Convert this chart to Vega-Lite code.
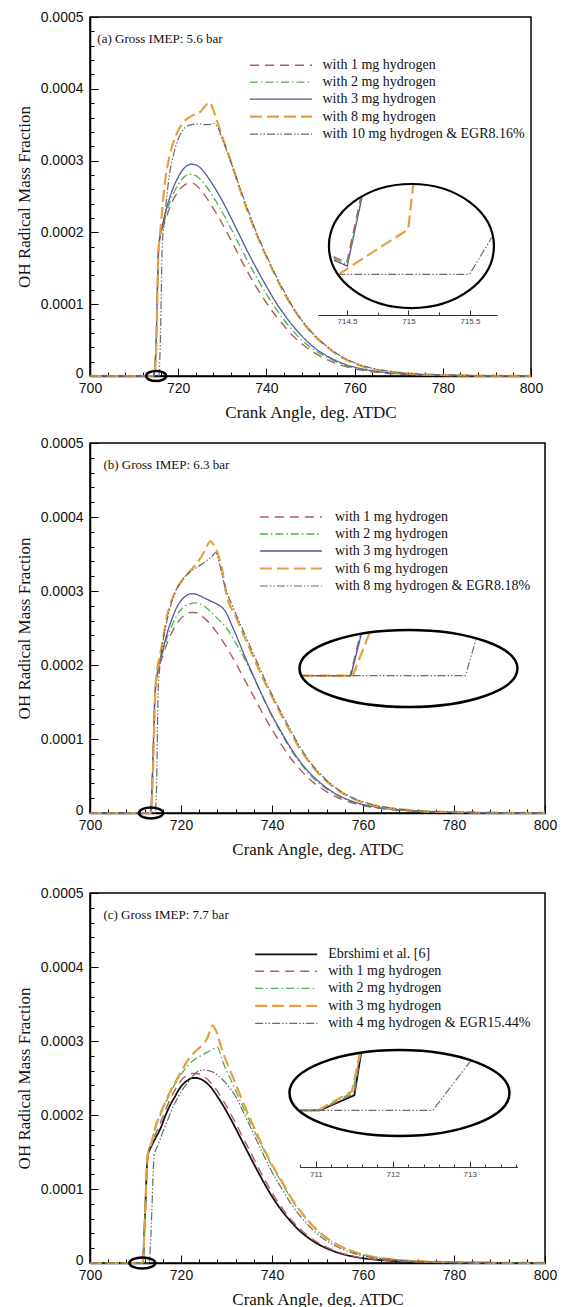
{
  "$schema": "https://vega.github.io/schema/vega-lite/v6.json",
  "background": "white",
  "padding": {"left": 14, "top": 9, "right": 0, "bottom": 0},
  "config": {
    "view": {"stroke": "black", "strokeWidth": 1.5},
    "axis": {"grid": false, "domainColor": "black", "domainWidth": 1.5, "tickColor": "black", "tickWidth": 1, "labelFont": "Liberation Sans", "labelFontSize": 14, "labelColor": "#111", "titleFont": "Liberation Serif", "titleFontSize": 17, "titleFontWeight": "normal", "titleColor": "#111", "labelOverlap": false, "tickCount": 40}
  },
  "datasets": {
    "a_main": [
      {"series":"with 1 mg hydrogen","angle":700,"oh":0},{"series":"with 1 mg hydrogen","angle":714.4,"oh":0},{"series":"with 1 mg hydrogen","angle":714.9,"oh":3e-5},{"series":"with 1 mg hydrogen","angle":715.6,"oh":1.8e-4},{"series":"with 1 mg hydrogen","angle":716,"oh":1.95e-4},{"series":"with 1 mg hydrogen","angle":717,"oh":2.15e-4},{"series":"with 1 mg hydrogen","angle":718,"oh":2.33e-4},{"series":"with 1 mg hydrogen","angle":719,"oh":2.47e-4},{"series":"with 1 mg hydrogen","angle":720,"oh":2.57e-4},{"series":"with 1 mg hydrogen","angle":721,"oh":2.64e-4},{"series":"with 1 mg hydrogen","angle":722,"oh":2.68e-4},{"series":"with 1 mg hydrogen","angle":723,"oh":2.69e-4},{"series":"with 1 mg hydrogen","angle":724,"oh":2.66e-4},{"series":"with 1 mg hydrogen","angle":725,"oh":2.6e-4},{"series":"with 1 mg hydrogen","angle":726,"oh":2.52e-4},{"series":"with 1 mg hydrogen","angle":728,"oh":2.33e-4},{"series":"with 1 mg hydrogen","angle":730,"oh":2.12e-4},{"series":"with 1 mg hydrogen","angle":732,"oh":1.89e-4},{"series":"with 1 mg hydrogen","angle":734,"oh":1.65e-4},{"series":"with 1 mg hydrogen","angle":736,"oh":1.42e-4},{"series":"with 1 mg hydrogen","angle":738,"oh":1.21e-4},{"series":"with 1 mg hydrogen","angle":740,"oh":1.02e-4},{"series":"with 1 mg hydrogen","angle":742,"oh":8.5e-5},{"series":"with 1 mg hydrogen","angle":744,"oh":7e-5},{"series":"with 1 mg hydrogen","angle":746,"oh":5.6e-5},{"series":"with 1 mg hydrogen","angle":748,"oh":4.5e-5},{"series":"with 1 mg hydrogen","angle":750,"oh":3.6e-5},{"series":"with 1 mg hydrogen","angle":754,"oh":2.2e-5},{"series":"with 1 mg hydrogen","angle":758,"oh":1.3e-5},{"series":"with 1 mg hydrogen","angle":762,"oh":7.5e-6},{"series":"with 1 mg hydrogen","angle":768,"oh":3.5e-6},{"series":"with 1 mg hydrogen","angle":775,"oh":1.5e-6},{"series":"with 1 mg hydrogen","angle":785,"oh":5e-7},{"series":"with 1 mg hydrogen","angle":800,"oh":1e-7},
      {"series":"with 2 mg hydrogen","angle":700,"oh":0},{"series":"with 2 mg hydrogen","angle":714.4,"oh":0},{"series":"with 2 mg hydrogen","angle":714.9,"oh":3e-5},{"series":"with 2 mg hydrogen","angle":715.6,"oh":1.82e-4},{"series":"with 2 mg hydrogen","angle":716,"oh":1.97e-4},{"series":"with 2 mg hydrogen","angle":717,"oh":2.2e-4},{"series":"with 2 mg hydrogen","angle":718,"oh":2.4e-4},{"series":"with 2 mg hydrogen","angle":719,"oh":2.55e-4},{"series":"with 2 mg hydrogen","angle":720,"oh":2.67e-4},{"series":"with 2 mg hydrogen","angle":721,"oh":2.75e-4},{"series":"with 2 mg hydrogen","angle":722,"oh":2.8e-4},{"series":"with 2 mg hydrogen","angle":723,"oh":2.81e-4},{"series":"with 2 mg hydrogen","angle":724,"oh":2.79e-4},{"series":"with 2 mg hydrogen","angle":725,"oh":2.74e-4},{"series":"with 2 mg hydrogen","angle":726,"oh":2.67e-4},{"series":"with 2 mg hydrogen","angle":728,"oh":2.49e-4},{"series":"with 2 mg hydrogen","angle":730,"oh":2.28e-4},{"series":"with 2 mg hydrogen","angle":732,"oh":2.05e-4},{"series":"with 2 mg hydrogen","angle":734,"oh":1.81e-4},{"series":"with 2 mg hydrogen","angle":736,"oh":1.57e-4},{"series":"with 2 mg hydrogen","angle":738,"oh":1.35e-4},{"series":"with 2 mg hydrogen","angle":740,"oh":1.14e-4},{"series":"with 2 mg hydrogen","angle":742,"oh":9.5e-5},{"series":"with 2 mg hydrogen","angle":744,"oh":7.8e-5},{"series":"with 2 mg hydrogen","angle":746,"oh":6.3e-5},{"series":"with 2 mg hydrogen","angle":748,"oh":5e-5},{"series":"with 2 mg hydrogen","angle":750,"oh":4e-5},{"series":"with 2 mg hydrogen","angle":754,"oh":2.5e-5},{"series":"with 2 mg hydrogen","angle":758,"oh":1.45e-5},{"series":"with 2 mg hydrogen","angle":762,"oh":8.5e-6},{"series":"with 2 mg hydrogen","angle":768,"oh":4e-6},{"series":"with 2 mg hydrogen","angle":775,"oh":1.7e-6},{"series":"with 2 mg hydrogen","angle":785,"oh":6e-7},{"series":"with 2 mg hydrogen","angle":800,"oh":1e-7},
      {"series":"with 3 mg hydrogen","angle":700,"oh":0},{"series":"with 3 mg hydrogen","angle":714.4,"oh":0},{"series":"with 3 mg hydrogen","angle":714.9,"oh":3e-5},{"series":"with 3 mg hydrogen","angle":715.6,"oh":1.84e-4},{"series":"with 3 mg hydrogen","angle":716,"oh":1.98e-4},{"series":"with 3 mg hydrogen","angle":717,"oh":2.25e-4},{"series":"with 3 mg hydrogen","angle":718,"oh":2.47e-4},{"series":"with 3 mg hydrogen","angle":719,"oh":2.64e-4},{"series":"with 3 mg hydrogen","angle":720,"oh":2.77e-4},{"series":"with 3 mg hydrogen","angle":721,"oh":2.87e-4},{"series":"with 3 mg hydrogen","angle":722,"oh":2.93e-4},{"series":"with 3 mg hydrogen","angle":723,"oh":2.95e-4},{"series":"with 3 mg hydrogen","angle":724,"oh":2.94e-4},{"series":"with 3 mg hydrogen","angle":725,"oh":2.9e-4},{"series":"with 3 mg hydrogen","angle":726,"oh":2.83e-4},{"series":"with 3 mg hydrogen","angle":728,"oh":2.65e-4},{"series":"with 3 mg hydrogen","angle":730,"oh":2.44e-4},{"series":"with 3 mg hydrogen","angle":732,"oh":2.2e-4},{"series":"with 3 mg hydrogen","angle":734,"oh":1.95e-4},{"series":"with 3 mg hydrogen","angle":736,"oh":1.7e-4},{"series":"with 3 mg hydrogen","angle":738,"oh":1.47e-4},{"series":"with 3 mg hydrogen","angle":740,"oh":1.25e-4},{"series":"with 3 mg hydrogen","angle":742,"oh":1.04e-4},{"series":"with 3 mg hydrogen","angle":744,"oh":8.6e-5},{"series":"with 3 mg hydrogen","angle":746,"oh":7e-5},{"series":"with 3 mg hydrogen","angle":748,"oh":5.6e-5},{"series":"with 3 mg hydrogen","angle":750,"oh":4.4e-5},{"series":"with 3 mg hydrogen","angle":754,"oh":2.7e-5},{"series":"with 3 mg hydrogen","angle":758,"oh":1.6e-5},{"series":"with 3 mg hydrogen","angle":762,"oh":9.5e-6},{"series":"with 3 mg hydrogen","angle":768,"oh":4.5e-6},{"series":"with 3 mg hydrogen","angle":775,"oh":1.9e-6},{"series":"with 3 mg hydrogen","angle":785,"oh":7e-7},{"series":"with 3 mg hydrogen","angle":800,"oh":1e-7},
      {"series":"with 8 mg hydrogen","angle":700,"oh":0},{"series":"with 8 mg hydrogen","angle":714.4,"oh":0},{"series":"with 8 mg hydrogen","angle":714.9,"oh":2e-5},{"series":"with 8 mg hydrogen","angle":715.5,"oh":1.7e-4},{"series":"with 8 mg hydrogen","angle":716,"oh":2.05e-4},{"series":"with 8 mg hydrogen","angle":716.5,"oh":2.4e-4},{"series":"with 8 mg hydrogen","angle":717,"oh":2.7e-4},{"series":"with 8 mg hydrogen","angle":718,"oh":3.05e-4},{"series":"with 8 mg hydrogen","angle":719,"oh":3.27e-4},{"series":"with 8 mg hydrogen","angle":720,"oh":3.42e-4},{"series":"with 8 mg hydrogen","angle":721,"oh":3.52e-4},{"series":"with 8 mg hydrogen","angle":722,"oh":3.58e-4},{"series":"with 8 mg hydrogen","angle":723,"oh":3.62e-4},{"series":"with 8 mg hydrogen","angle":724,"oh":3.65e-4},{"series":"with 8 mg hydrogen","angle":725,"oh":3.68e-4},{"series":"with 8 mg hydrogen","angle":726,"oh":3.75e-4},{"series":"with 8 mg hydrogen","angle":727,"oh":3.81e-4},{"series":"with 8 mg hydrogen","angle":727.5,"oh":3.78e-4},{"series":"with 8 mg hydrogen","angle":728,"oh":3.7e-4},{"series":"with 8 mg hydrogen","angle":729,"oh":3.52e-4},{"series":"with 8 mg hydrogen","angle":730,"oh":3.33e-4},{"series":"with 8 mg hydrogen","angle":731,"oh":3.16e-4},{"series":"with 8 mg hydrogen","angle":732,"oh":2.98e-4},{"series":"with 8 mg hydrogen","angle":734,"oh":2.6e-4},{"series":"with 8 mg hydrogen","angle":736,"oh":2.25e-4},{"series":"with 8 mg hydrogen","angle":738,"oh":1.94e-4},{"series":"with 8 mg hydrogen","angle":740,"oh":1.66e-4},{"series":"with 8 mg hydrogen","angle":742,"oh":1.4e-4},{"series":"with 8 mg hydrogen","angle":744,"oh":1.16e-4},{"series":"with 8 mg hydrogen","angle":746,"oh":9.5e-5},{"series":"with 8 mg hydrogen","angle":748,"oh":7.7e-5},{"series":"with 8 mg hydrogen","angle":750,"oh":6.2e-5},{"series":"with 8 mg hydrogen","angle":754,"oh":3.9e-5},{"series":"with 8 mg hydrogen","angle":758,"oh":2.3e-5},{"series":"with 8 mg hydrogen","angle":762,"oh":1.3e-5},{"series":"with 8 mg hydrogen","angle":768,"oh":6e-6},{"series":"with 8 mg hydrogen","angle":775,"oh":2.5e-6},{"series":"with 8 mg hydrogen","angle":785,"oh":8e-7},{"series":"with 8 mg hydrogen","angle":800,"oh":2e-7},
      {"series":"with 10 mg hydrogen & EGR8.16%","angle":700,"oh":0},{"series":"with 10 mg hydrogen & EGR8.16%","angle":715.6,"oh":0},{"series":"with 10 mg hydrogen & EGR8.16%","angle":716,"oh":6e-5},{"series":"with 10 mg hydrogen & EGR8.16%","angle":716.4,"oh":1.85e-4},{"series":"with 10 mg hydrogen & EGR8.16%","angle":716.8,"oh":2.1e-4},{"series":"with 10 mg hydrogen & EGR8.16%","angle":717.5,"oh":2.55e-4},{"series":"with 10 mg hydrogen & EGR8.16%","angle":718,"oh":2.8e-4},{"series":"with 10 mg hydrogen & EGR8.16%","angle":719,"oh":3.1e-4},{"series":"with 10 mg hydrogen & EGR8.16%","angle":720,"oh":3.3e-4},{"series":"with 10 mg hydrogen & EGR8.16%","angle":721,"oh":3.42e-4},{"series":"with 10 mg hydrogen & EGR8.16%","angle":722,"oh":3.48e-4},{"series":"with 10 mg hydrogen & EGR8.16%","angle":723,"oh":3.5e-4},{"series":"with 10 mg hydrogen & EGR8.16%","angle":724,"oh":3.51e-4},{"series":"with 10 mg hydrogen & EGR8.16%","angle":725,"oh":3.51e-4},{"series":"with 10 mg hydrogen & EGR8.16%","angle":726,"oh":3.5e-4},{"series":"with 10 mg hydrogen & EGR8.16%","angle":727,"oh":3.5e-4},{"series":"with 10 mg hydrogen & EGR8.16%","angle":728,"oh":3.52e-4},{"series":"with 10 mg hydrogen & EGR8.16%","angle":729,"oh":3.46e-4},{"series":"with 10 mg hydrogen & EGR8.16%","angle":730,"oh":3.3e-4},{"series":"with 10 mg hydrogen & EGR8.16%","angle":731,"oh":3.14e-4},{"series":"with 10 mg hydrogen & EGR8.16%","angle":732,"oh":2.97e-4},{"series":"with 10 mg hydrogen & EGR8.16%","angle":734,"oh":2.62e-4},{"series":"with 10 mg hydrogen & EGR8.16%","angle":736,"oh":2.28e-4},{"series":"with 10 mg hydrogen & EGR8.16%","angle":738,"oh":1.96e-4},{"series":"with 10 mg hydrogen & EGR8.16%","angle":740,"oh":1.68e-4},{"series":"with 10 mg hydrogen & EGR8.16%","angle":742,"oh":1.42e-4},{"series":"with 10 mg hydrogen & EGR8.16%","angle":744,"oh":1.18e-4},{"series":"with 10 mg hydrogen & EGR8.16%","angle":746,"oh":9.6e-5},{"series":"with 10 mg hydrogen & EGR8.16%","angle":748,"oh":7.8e-5},{"series":"with 10 mg hydrogen & EGR8.16%","angle":750,"oh":6.3e-5},{"series":"with 10 mg hydrogen & EGR8.16%","angle":754,"oh":4e-5},{"series":"with 10 mg hydrogen & EGR8.16%","angle":758,"oh":2.4e-5},{"series":"with 10 mg hydrogen & EGR8.16%","angle":762,"oh":1.4e-5},{"series":"with 10 mg hydrogen & EGR8.16%","angle":768,"oh":6.5e-6},{"series":"with 10 mg hydrogen & EGR8.16%","angle":775,"oh":2.7e-6},{"series":"with 10 mg hydrogen & EGR8.16%","angle":785,"oh":9e-7},{"series":"with 10 mg hydrogen & EGR8.16%","angle":800,"oh":2e-7}
    ],
    "a_inset": [
      {"series":"with 10 mg hydrogen & EGR8.16%","angle":714.421,"oh":0},{"series":"with 10 mg hydrogen & EGR8.16%","angle":715.497,"oh":0},{"series":"with 10 mg hydrogen & EGR8.16%","angle":715.676,"oh":4.07e-7},
      {"series":"with 8 mg hydrogen","angle":714.43,"oh":0},{"series":"with 8 mg hydrogen","angle":714.998,"oh":5e-7},{"series":"with 8 mg hydrogen","angle":715.039,"oh":1e-6},
      {"series":"with 3 mg hydrogen","angle":714.394,"oh":1.56e-7},{"series":"with 3 mg hydrogen","angle":714.502,"oh":9.2e-8},{"series":"with 3 mg hydrogen","angle":714.624,"oh":8.7e-7},
      {"series":"with 2 mg hydrogen","angle":714.392,"oh":1.75e-7},{"series":"with 2 mg hydrogen","angle":714.5,"oh":1.1e-7},{"series":"with 2 mg hydrogen","angle":714.619,"oh":8.7e-7},
      {"series":"with 1 mg hydrogen","angle":714.39,"oh":1.95e-7},{"series":"with 1 mg hydrogen","angle":714.498,"oh":1.28e-7},{"series":"with 1 mg hydrogen","angle":714.614,"oh":8.7e-7}
    ],
    "b_main": [
      {"series":"with 1 mg hydrogen","angle":700,"oh":0},{"series":"with 1 mg hydrogen","angle":713.3,"oh":0},{"series":"with 1 mg hydrogen","angle":713.6,"oh":3e-5},{"series":"with 1 mg hydrogen","angle":714.3,"oh":1.6e-4},{"series":"with 1 mg hydrogen","angle":714.8,"oh":1.86e-4},{"series":"with 1 mg hydrogen","angle":716,"oh":2.12e-4},{"series":"with 1 mg hydrogen","angle":717,"oh":2.3e-4},{"series":"with 1 mg hydrogen","angle":718,"oh":2.44e-4},{"series":"with 1 mg hydrogen","angle":719,"oh":2.55e-4},{"series":"with 1 mg hydrogen","angle":720,"oh":2.63e-4},{"series":"with 1 mg hydrogen","angle":721,"oh":2.68e-4},{"series":"with 1 mg hydrogen","angle":722,"oh":2.71e-4},{"series":"with 1 mg hydrogen","angle":723,"oh":2.71e-4},{"series":"with 1 mg hydrogen","angle":724,"oh":2.69e-4},{"series":"with 1 mg hydrogen","angle":725,"oh":2.64e-4},{"series":"with 1 mg hydrogen","angle":726,"oh":2.58e-4},{"series":"with 1 mg hydrogen","angle":728,"oh":2.43e-4},{"series":"with 1 mg hydrogen","angle":730,"oh":2.24e-4},{"series":"with 1 mg hydrogen","angle":732,"oh":2.03e-4},{"series":"with 1 mg hydrogen","angle":734,"oh":1.8e-4},{"series":"with 1 mg hydrogen","angle":736,"oh":1.57e-4},{"series":"with 1 mg hydrogen","angle":738,"oh":1.34e-4},{"series":"with 1 mg hydrogen","angle":740,"oh":1.13e-4},{"series":"with 1 mg hydrogen","angle":742,"oh":9.3e-5},{"series":"with 1 mg hydrogen","angle":744,"oh":7.5e-5},{"series":"with 1 mg hydrogen","angle":746,"oh":6e-5},{"series":"with 1 mg hydrogen","angle":748,"oh":4.7e-5},{"series":"with 1 mg hydrogen","angle":750,"oh":3.7e-5},{"series":"with 1 mg hydrogen","angle":754,"oh":2.2e-5},{"series":"with 1 mg hydrogen","angle":758,"oh":1.3e-5},{"series":"with 1 mg hydrogen","angle":762,"oh":7.5e-6},{"series":"with 1 mg hydrogen","angle":768,"oh":3.5e-6},{"series":"with 1 mg hydrogen","angle":775,"oh":1.5e-6},{"series":"with 1 mg hydrogen","angle":785,"oh":5e-7},{"series":"with 1 mg hydrogen","angle":800,"oh":1e-7},
      {"series":"with 2 mg hydrogen","angle":700,"oh":0},{"series":"with 2 mg hydrogen","angle":713.3,"oh":0},{"series":"with 2 mg hydrogen","angle":713.6,"oh":3e-5},{"series":"with 2 mg hydrogen","angle":714.3,"oh":1.62e-4},{"series":"with 2 mg hydrogen","angle":714.8,"oh":1.88e-4},{"series":"with 2 mg hydrogen","angle":716,"oh":2.17e-4},{"series":"with 2 mg hydrogen","angle":717,"oh":2.38e-4},{"series":"with 2 mg hydrogen","angle":718,"oh":2.53e-4},{"series":"with 2 mg hydrogen","angle":719,"oh":2.66e-4},{"series":"with 2 mg hydrogen","angle":720,"oh":2.75e-4},{"series":"with 2 mg hydrogen","angle":721,"oh":2.8e-4},{"series":"with 2 mg hydrogen","angle":722,"oh":2.83e-4},{"series":"with 2 mg hydrogen","angle":723,"oh":2.84e-4},{"series":"with 2 mg hydrogen","angle":724,"oh":2.83e-4},{"series":"with 2 mg hydrogen","angle":725,"oh":2.8e-4},{"series":"with 2 mg hydrogen","angle":726,"oh":2.75e-4},{"series":"with 2 mg hydrogen","angle":728,"oh":2.63e-4},{"series":"with 2 mg hydrogen","angle":730,"oh":2.5e-4},{"series":"with 2 mg hydrogen","angle":732,"oh":2.3e-4},{"series":"with 2 mg hydrogen","angle":734,"oh":2.08e-4},{"series":"with 2 mg hydrogen","angle":736,"oh":1.83e-4},{"series":"with 2 mg hydrogen","angle":738,"oh":1.56e-4},{"series":"with 2 mg hydrogen","angle":740,"oh":1.31e-4},{"series":"with 2 mg hydrogen","angle":742,"oh":1.08e-4},{"series":"with 2 mg hydrogen","angle":744,"oh":8.7e-5},{"series":"with 2 mg hydrogen","angle":746,"oh":6.9e-5},{"series":"with 2 mg hydrogen","angle":748,"oh":5.4e-5},{"series":"with 2 mg hydrogen","angle":750,"oh":4.2e-5},{"series":"with 2 mg hydrogen","angle":754,"oh":2.5e-5},{"series":"with 2 mg hydrogen","angle":758,"oh":1.45e-5},{"series":"with 2 mg hydrogen","angle":762,"oh":8.5e-6},{"series":"with 2 mg hydrogen","angle":768,"oh":4e-6},{"series":"with 2 mg hydrogen","angle":775,"oh":1.7e-6},{"series":"with 2 mg hydrogen","angle":785,"oh":6e-7},{"series":"with 2 mg hydrogen","angle":800,"oh":1e-7},
      {"series":"with 3 mg hydrogen","angle":700,"oh":0},{"series":"with 3 mg hydrogen","angle":713.3,"oh":0},{"series":"with 3 mg hydrogen","angle":713.6,"oh":3e-5},{"series":"with 3 mg hydrogen","angle":714.3,"oh":1.63e-4},{"series":"with 3 mg hydrogen","angle":714.8,"oh":1.9e-4},{"series":"with 3 mg hydrogen","angle":716,"oh":2.2e-4},{"series":"with 3 mg hydrogen","angle":717,"oh":2.44e-4},{"series":"with 3 mg hydrogen","angle":718,"oh":2.62e-4},{"series":"with 3 mg hydrogen","angle":719,"oh":2.77e-4},{"series":"with 3 mg hydrogen","angle":720,"oh":2.87e-4},{"series":"with 3 mg hydrogen","angle":721,"oh":2.93e-4},{"series":"with 3 mg hydrogen","angle":722,"oh":2.96e-4},{"series":"with 3 mg hydrogen","angle":723,"oh":2.96e-4},{"series":"with 3 mg hydrogen","angle":724,"oh":2.94e-4},{"series":"with 3 mg hydrogen","angle":725,"oh":2.91e-4},{"series":"with 3 mg hydrogen","angle":726,"oh":2.88e-4},{"series":"with 3 mg hydrogen","angle":727,"oh":2.85e-4},{"series":"with 3 mg hydrogen","angle":728,"oh":2.82e-4},{"series":"with 3 mg hydrogen","angle":729,"oh":2.78e-4},{"series":"with 3 mg hydrogen","angle":730,"oh":2.7e-4},{"series":"with 3 mg hydrogen","angle":731,"oh":2.56e-4},{"series":"with 3 mg hydrogen","angle":732,"oh":2.42e-4},{"series":"with 3 mg hydrogen","angle":734,"oh":2.12e-4},{"series":"with 3 mg hydrogen","angle":736,"oh":1.84e-4},{"series":"with 3 mg hydrogen","angle":738,"oh":1.57e-4},{"series":"with 3 mg hydrogen","angle":740,"oh":1.32e-4},{"series":"with 3 mg hydrogen","angle":742,"oh":1.1e-4},{"series":"with 3 mg hydrogen","angle":744,"oh":8.9e-5},{"series":"with 3 mg hydrogen","angle":746,"oh":7.1e-5},{"series":"with 3 mg hydrogen","angle":748,"oh":5.6e-5},{"series":"with 3 mg hydrogen","angle":750,"oh":4.4e-5},{"series":"with 3 mg hydrogen","angle":754,"oh":2.6e-5},{"series":"with 3 mg hydrogen","angle":758,"oh":1.5e-5},{"series":"with 3 mg hydrogen","angle":762,"oh":9e-6},{"series":"with 3 mg hydrogen","angle":768,"oh":4.2e-6},{"series":"with 3 mg hydrogen","angle":775,"oh":1.8e-6},{"series":"with 3 mg hydrogen","angle":785,"oh":6e-7},{"series":"with 3 mg hydrogen","angle":800,"oh":1e-7},
      {"series":"with 6 mg hydrogen","angle":700,"oh":0},{"series":"with 6 mg hydrogen","angle":713.4,"oh":0},{"series":"with 6 mg hydrogen","angle":713.7,"oh":3e-5},{"series":"with 6 mg hydrogen","angle":714.4,"oh":1.7e-4},{"series":"with 6 mg hydrogen","angle":714.7,"oh":1.9e-4},{"series":"with 6 mg hydrogen","angle":715.6,"oh":2.2e-4},{"series":"with 6 mg hydrogen","angle":717,"oh":2.68e-4},{"series":"with 6 mg hydrogen","angle":718,"oh":2.88e-4},{"series":"with 6 mg hydrogen","angle":719,"oh":3.02e-4},{"series":"with 6 mg hydrogen","angle":720,"oh":3.12e-4},{"series":"with 6 mg hydrogen","angle":721,"oh":3.2e-4},{"series":"with 6 mg hydrogen","angle":722,"oh":3.27e-4},{"series":"with 6 mg hydrogen","angle":723,"oh":3.34e-4},{"series":"with 6 mg hydrogen","angle":724,"oh":3.42e-4},{"series":"with 6 mg hydrogen","angle":725,"oh":3.52e-4},{"series":"with 6 mg hydrogen","angle":726,"oh":3.64e-4},{"series":"with 6 mg hydrogen","angle":726.5,"oh":3.67e-4},{"series":"with 6 mg hydrogen","angle":727,"oh":3.64e-4},{"series":"with 6 mg hydrogen","angle":728,"oh":3.52e-4},{"series":"with 6 mg hydrogen","angle":729,"oh":3.3e-4},{"series":"with 6 mg hydrogen","angle":730,"oh":2.95e-4},{"series":"with 6 mg hydrogen","angle":732,"oh":2.66e-4},{"series":"with 6 mg hydrogen","angle":734,"oh":2.37e-4},{"series":"with 6 mg hydrogen","angle":736,"oh":2.1e-4},{"series":"with 6 mg hydrogen","angle":738,"oh":1.82e-4},{"series":"with 6 mg hydrogen","angle":740,"oh":1.57e-4},{"series":"with 6 mg hydrogen","angle":742,"oh":1.33e-4},{"series":"with 6 mg hydrogen","angle":744,"oh":1.1e-4},{"series":"with 6 mg hydrogen","angle":746,"oh":8.8e-5},{"series":"with 6 mg hydrogen","angle":748,"oh":7e-5},{"series":"with 6 mg hydrogen","angle":750,"oh":5.5e-5},{"series":"with 6 mg hydrogen","angle":754,"oh":3.3e-5},{"series":"with 6 mg hydrogen","angle":758,"oh":1.9e-5},{"series":"with 6 mg hydrogen","angle":762,"oh":1.1e-5},{"series":"with 6 mg hydrogen","angle":768,"oh":5e-6},{"series":"with 6 mg hydrogen","angle":775,"oh":2.1e-6},{"series":"with 6 mg hydrogen","angle":785,"oh":7e-7},{"series":"with 6 mg hydrogen","angle":800,"oh":1e-7},
      {"series":"with 8 mg hydrogen & EGR8.18%","angle":700,"oh":0},{"series":"with 8 mg hydrogen & EGR8.18%","angle":714.3,"oh":0},{"series":"with 8 mg hydrogen & EGR8.18%","angle":714.6,"oh":3e-5},{"series":"with 8 mg hydrogen & EGR8.18%","angle":715,"oh":1.7e-4},{"series":"with 8 mg hydrogen & EGR8.18%","angle":715.3,"oh":1.95e-4},{"series":"with 8 mg hydrogen & EGR8.18%","angle":716,"oh":2.3e-4},{"series":"with 8 mg hydrogen & EGR8.18%","angle":717,"oh":2.62e-4},{"series":"with 8 mg hydrogen & EGR8.18%","angle":718,"oh":2.86e-4},{"series":"with 8 mg hydrogen & EGR8.18%","angle":719,"oh":3.02e-4},{"series":"with 8 mg hydrogen & EGR8.18%","angle":720,"oh":3.13e-4},{"series":"with 8 mg hydrogen & EGR8.18%","angle":721,"oh":3.2e-4},{"series":"with 8 mg hydrogen & EGR8.18%","angle":722,"oh":3.26e-4},{"series":"with 8 mg hydrogen & EGR8.18%","angle":723,"oh":3.3e-4},{"series":"with 8 mg hydrogen & EGR8.18%","angle":724,"oh":3.34e-4},{"series":"with 8 mg hydrogen & EGR8.18%","angle":725,"oh":3.38e-4},{"series":"with 8 mg hydrogen & EGR8.18%","angle":726,"oh":3.43e-4},{"series":"with 8 mg hydrogen & EGR8.18%","angle":727,"oh":3.48e-4},{"series":"with 8 mg hydrogen & EGR8.18%","angle":727.6,"oh":3.52e-4},{"series":"with 8 mg hydrogen & EGR8.18%","angle":728.5,"oh":3.36e-4},{"series":"with 8 mg hydrogen & EGR8.18%","angle":729.5,"oh":3.1e-4},{"series":"with 8 mg hydrogen & EGR8.18%","angle":730,"oh":3e-4},{"series":"with 8 mg hydrogen & EGR8.18%","angle":732,"oh":2.7e-4},{"series":"with 8 mg hydrogen & EGR8.18%","angle":734,"oh":2.42e-4},{"series":"with 8 mg hydrogen & EGR8.18%","angle":736,"oh":2.14e-4},{"series":"with 8 mg hydrogen & EGR8.18%","angle":738,"oh":1.86e-4},{"series":"with 8 mg hydrogen & EGR8.18%","angle":740,"oh":1.6e-4},{"series":"with 8 mg hydrogen & EGR8.18%","angle":742,"oh":1.36e-4},{"series":"with 8 mg hydrogen & EGR8.18%","angle":744,"oh":1.13e-4},{"series":"with 8 mg hydrogen & EGR8.18%","angle":746,"oh":9.1e-5},{"series":"with 8 mg hydrogen & EGR8.18%","angle":748,"oh":7.2e-5},{"series":"with 8 mg hydrogen & EGR8.18%","angle":750,"oh":5.7e-5},{"series":"with 8 mg hydrogen & EGR8.18%","angle":754,"oh":3.4e-5},{"series":"with 8 mg hydrogen & EGR8.18%","angle":758,"oh":2e-5},{"series":"with 8 mg hydrogen & EGR8.18%","angle":762,"oh":1.15e-5},{"series":"with 8 mg hydrogen & EGR8.18%","angle":768,"oh":5.3e-6},{"series":"with 8 mg hydrogen & EGR8.18%","angle":775,"oh":2.2e-6},{"series":"with 8 mg hydrogen & EGR8.18%","angle":785,"oh":7e-7},{"series":"with 8 mg hydrogen & EGR8.18%","angle":800,"oh":1e-7}
    ],
    "b_inset": [
      {"series":"with 1 mg hydrogen","angle":713.074,"oh":0},{"series":"with 1 mg hydrogen","angle":713.497,"oh":0},{"series":"with 1 mg hydrogen","angle":713.585,"oh":9.3e-7},
      {"series":"with 2 mg hydrogen","angle":713.074,"oh":0},{"series":"with 2 mg hydrogen","angle":713.5,"oh":0},{"series":"with 2 mg hydrogen","angle":713.59,"oh":9.3e-7},
      {"series":"with 3 mg hydrogen","angle":713.074,"oh":0},{"series":"with 3 mg hydrogen","angle":713.503,"oh":0},{"series":"with 3 mg hydrogen","angle":713.595,"oh":9.3e-7},
      {"series":"with 6 mg hydrogen","angle":713.074,"oh":0},{"series":"with 6 mg hydrogen","angle":713.52,"oh":0},{"series":"with 6 mg hydrogen","angle":713.665,"oh":9.5e-7},
      {"series":"with 8 mg hydrogen & EGR8.18%","angle":713.074,"oh":0},{"series":"with 8 mg hydrogen & EGR8.18%","angle":714.5,"oh":0},{"series":"with 8 mg hydrogen & EGR8.18%","angle":714.59,"oh":8e-7}
    ],
    "c_main": [
      {"series":"Ebrshimi et al. [6]","angle":700,"oh":0},{"series":"Ebrshimi et al. [6]","angle":711.6,"oh":0},{"series":"Ebrshimi et al. [6]","angle":712,"oh":5e-5},{"series":"Ebrshimi et al. [6]","angle":712.7,"oh":1.45e-4},{"series":"Ebrshimi et al. [6]","angle":713.5,"oh":1.58e-4},{"series":"Ebrshimi et al. [6]","angle":714.5,"oh":1.7e-4},{"series":"Ebrshimi et al. [6]","angle":715.5,"oh":1.82e-4},{"series":"Ebrshimi et al. [6]","angle":716.5,"oh":1.98e-4},{"series":"Ebrshimi et al. [6]","angle":717.5,"oh":2.12e-4},{"series":"Ebrshimi et al. [6]","angle":718.5,"oh":2.23e-4},{"series":"Ebrshimi et al. [6]","angle":719.5,"oh":2.34e-4},{"series":"Ebrshimi et al. [6]","angle":720.5,"oh":2.42e-4},{"series":"Ebrshimi et al. [6]","angle":721.5,"oh":2.47e-4},{"series":"Ebrshimi et al. [6]","angle":722.5,"oh":2.5e-4},{"series":"Ebrshimi et al. [6]","angle":723.5,"oh":2.5e-4},{"series":"Ebrshimi et al. [6]","angle":724.5,"oh":2.48e-4},{"series":"Ebrshimi et al. [6]","angle":725.5,"oh":2.44e-4},{"series":"Ebrshimi et al. [6]","angle":726.5,"oh":2.38e-4},{"series":"Ebrshimi et al. [6]","angle":728,"oh":2.25e-4},{"series":"Ebrshimi et al. [6]","angle":730,"oh":2.05e-4},{"series":"Ebrshimi et al. [6]","angle":732,"oh":1.82e-4},{"series":"Ebrshimi et al. [6]","angle":734,"oh":1.58e-4},{"series":"Ebrshimi et al. [6]","angle":736,"oh":1.34e-4},{"series":"Ebrshimi et al. [6]","angle":738,"oh":1.11e-4},{"series":"Ebrshimi et al. [6]","angle":740,"oh":9e-5},{"series":"Ebrshimi et al. [6]","angle":742,"oh":7.2e-5},{"series":"Ebrshimi et al. [6]","angle":744,"oh":5.7e-5},{"series":"Ebrshimi et al. [6]","angle":746,"oh":4.4e-5},{"series":"Ebrshimi et al. [6]","angle":748,"oh":3.4e-5},{"series":"Ebrshimi et al. [6]","angle":750,"oh":2.6e-5},{"series":"Ebrshimi et al. [6]","angle":754,"oh":1.5e-5},{"series":"Ebrshimi et al. [6]","angle":758,"oh":8.5e-6},{"series":"Ebrshimi et al. [6]","angle":762,"oh":5e-6},{"series":"Ebrshimi et al. [6]","angle":768,"oh":2.4e-6},{"series":"Ebrshimi et al. [6]","angle":775,"oh":1e-6},{"series":"Ebrshimi et al. [6]","angle":785,"oh":4e-7},{"series":"Ebrshimi et al. [6]","angle":800,"oh":1e-7},
      {"series":"with 1 mg hydrogen","angle":700,"oh":0},{"series":"with 1 mg hydrogen","angle":711.6,"oh":0},{"series":"with 1 mg hydrogen","angle":712,"oh":5e-5},{"series":"with 1 mg hydrogen","angle":712.7,"oh":1.47e-4},{"series":"with 1 mg hydrogen","angle":713.5,"oh":1.62e-4},{"series":"with 1 mg hydrogen","angle":714.5,"oh":1.76e-4},{"series":"with 1 mg hydrogen","angle":715.5,"oh":1.9e-4},{"series":"with 1 mg hydrogen","angle":716.5,"oh":2.05e-4},{"series":"with 1 mg hydrogen","angle":717.5,"oh":2.2e-4},{"series":"with 1 mg hydrogen","angle":718.5,"oh":2.32e-4},{"series":"with 1 mg hydrogen","angle":719.5,"oh":2.42e-4},{"series":"with 1 mg hydrogen","angle":720.5,"oh":2.5e-4},{"series":"with 1 mg hydrogen","angle":721.5,"oh":2.54e-4},{"series":"with 1 mg hydrogen","angle":722.5,"oh":2.56e-4},{"series":"with 1 mg hydrogen","angle":723.5,"oh":2.56e-4},{"series":"with 1 mg hydrogen","angle":724.5,"oh":2.54e-4},{"series":"with 1 mg hydrogen","angle":725.5,"oh":2.5e-4},{"series":"with 1 mg hydrogen","angle":726.5,"oh":2.44e-4},{"series":"with 1 mg hydrogen","angle":728,"oh":2.32e-4},{"series":"with 1 mg hydrogen","angle":730,"oh":2.12e-4},{"series":"with 1 mg hydrogen","angle":732,"oh":1.89e-4},{"series":"with 1 mg hydrogen","angle":734,"oh":1.65e-4},{"series":"with 1 mg hydrogen","angle":736,"oh":1.41e-4},{"series":"with 1 mg hydrogen","angle":738,"oh":1.17e-4},{"series":"with 1 mg hydrogen","angle":740,"oh":9.5e-5},{"series":"with 1 mg hydrogen","angle":742,"oh":7.6e-5},{"series":"with 1 mg hydrogen","angle":744,"oh":6e-5},{"series":"with 1 mg hydrogen","angle":746,"oh":4.7e-5},{"series":"with 1 mg hydrogen","angle":748,"oh":3.6e-5},{"series":"with 1 mg hydrogen","angle":750,"oh":2.8e-5},{"series":"with 1 mg hydrogen","angle":754,"oh":1.6e-5},{"series":"with 1 mg hydrogen","angle":758,"oh":9e-6},{"series":"with 1 mg hydrogen","angle":762,"oh":5.5e-6},{"series":"with 1 mg hydrogen","angle":768,"oh":2.6e-6},{"series":"with 1 mg hydrogen","angle":775,"oh":1.1e-6},{"series":"with 1 mg hydrogen","angle":785,"oh":4e-7},{"series":"with 1 mg hydrogen","angle":800,"oh":1e-7},
      {"series":"with 2 mg hydrogen","angle":700,"oh":0},{"series":"with 2 mg hydrogen","angle":711.6,"oh":0},{"series":"with 2 mg hydrogen","angle":712,"oh":5e-5},{"series":"with 2 mg hydrogen","angle":712.7,"oh":1.47e-4},{"series":"with 2 mg hydrogen","angle":713.5,"oh":1.62e-4},{"series":"with 2 mg hydrogen","angle":714.1,"oh":1.77e-4},{"series":"with 2 mg hydrogen","angle":715,"oh":1.93e-4},{"series":"with 2 mg hydrogen","angle":716.3,"oh":2.12e-4},{"series":"with 2 mg hydrogen","angle":717.5,"oh":2.28e-4},{"series":"with 2 mg hydrogen","angle":718.9,"oh":2.44e-4},{"series":"with 2 mg hydrogen","angle":720,"oh":2.55e-4},{"series":"with 2 mg hydrogen","angle":721.4,"oh":2.66e-4},{"series":"with 2 mg hydrogen","angle":723,"oh":2.75e-4},{"series":"with 2 mg hydrogen","angle":724.4,"oh":2.8e-4},{"series":"with 2 mg hydrogen","angle":725.8,"oh":2.85e-4},{"series":"with 2 mg hydrogen","angle":727,"oh":2.89e-4},{"series":"with 2 mg hydrogen","angle":728,"oh":2.92e-4},{"series":"with 2 mg hydrogen","angle":729,"oh":2.75e-4},{"series":"with 2 mg hydrogen","angle":730,"oh":2.6e-4},{"series":"with 2 mg hydrogen","angle":731,"oh":2.47e-4},{"series":"with 2 mg hydrogen","angle":732,"oh":2.33e-4},{"series":"with 2 mg hydrogen","angle":734,"oh":2.06e-4},{"series":"with 2 mg hydrogen","angle":736,"oh":1.8e-4},{"series":"with 2 mg hydrogen","angle":738,"oh":1.55e-4},{"series":"with 2 mg hydrogen","angle":740,"oh":1.31e-4},{"series":"with 2 mg hydrogen","angle":742,"oh":1.1e-4},{"series":"with 2 mg hydrogen","angle":744,"oh":8.9e-5},{"series":"with 2 mg hydrogen","angle":746,"oh":7.1e-5},{"series":"with 2 mg hydrogen","angle":748,"oh":5.6e-5},{"series":"with 2 mg hydrogen","angle":750,"oh":4.3e-5},{"series":"with 2 mg hydrogen","angle":754,"oh":2.6e-5},{"series":"with 2 mg hydrogen","angle":758,"oh":1.5e-5},{"series":"with 2 mg hydrogen","angle":762,"oh":8.5e-6},{"series":"with 2 mg hydrogen","angle":768,"oh":4e-6},{"series":"with 2 mg hydrogen","angle":775,"oh":1.7e-6},{"series":"with 2 mg hydrogen","angle":785,"oh":6e-7},{"series":"with 2 mg hydrogen","angle":800,"oh":1e-7},
      {"series":"with 3 mg hydrogen","angle":700,"oh":0},{"series":"with 3 mg hydrogen","angle":711.6,"oh":0},{"series":"with 3 mg hydrogen","angle":712,"oh":5e-5},{"series":"with 3 mg hydrogen","angle":712.7,"oh":1.47e-4},{"series":"with 3 mg hydrogen","angle":713.5,"oh":1.62e-4},{"series":"with 3 mg hydrogen","angle":714.1,"oh":1.78e-4},{"series":"with 3 mg hydrogen","angle":715,"oh":1.95e-4},{"series":"with 3 mg hydrogen","angle":716.3,"oh":2.14e-4},{"series":"with 3 mg hydrogen","angle":717.5,"oh":2.3e-4},{"series":"with 3 mg hydrogen","angle":718.9,"oh":2.46e-4},{"series":"with 3 mg hydrogen","angle":720,"oh":2.58e-4},{"series":"with 3 mg hydrogen","angle":721.4,"oh":2.73e-4},{"series":"with 3 mg hydrogen","angle":723,"oh":2.85e-4},{"series":"with 3 mg hydrogen","angle":724.4,"oh":2.93e-4},{"series":"with 3 mg hydrogen","angle":725.8,"oh":3.04e-4},{"series":"with 3 mg hydrogen","angle":726.9,"oh":3.21e-4},{"series":"with 3 mg hydrogen","angle":728,"oh":3.09e-4},{"series":"with 3 mg hydrogen","angle":729,"oh":2.88e-4},{"series":"with 3 mg hydrogen","angle":730,"oh":2.72e-4},{"series":"with 3 mg hydrogen","angle":731,"oh":2.57e-4},{"series":"with 3 mg hydrogen","angle":732,"oh":2.42e-4},{"series":"with 3 mg hydrogen","angle":734,"oh":2.12e-4},{"series":"with 3 mg hydrogen","angle":736,"oh":1.84e-4},{"series":"with 3 mg hydrogen","angle":738,"oh":1.57e-4},{"series":"with 3 mg hydrogen","angle":740,"oh":1.33e-4},{"series":"with 3 mg hydrogen","angle":742,"oh":1.12e-4},{"series":"with 3 mg hydrogen","angle":744,"oh":9e-5},{"series":"with 3 mg hydrogen","angle":746,"oh":7.2e-5},{"series":"with 3 mg hydrogen","angle":748,"oh":5.7e-5},{"series":"with 3 mg hydrogen","angle":750,"oh":4.4e-5},{"series":"with 3 mg hydrogen","angle":754,"oh":2.6e-5},{"series":"with 3 mg hydrogen","angle":758,"oh":1.5e-5},{"series":"with 3 mg hydrogen","angle":762,"oh":8.7e-6},{"series":"with 3 mg hydrogen","angle":768,"oh":4.1e-6},{"series":"with 3 mg hydrogen","angle":775,"oh":1.7e-6},{"series":"with 3 mg hydrogen","angle":785,"oh":6e-7},{"series":"with 3 mg hydrogen","angle":800,"oh":1e-7},
      {"series":"with 4 mg hydrogen & EGR15.44%","angle":700,"oh":0},{"series":"with 4 mg hydrogen & EGR15.44%","angle":713,"oh":0},{"series":"with 4 mg hydrogen & EGR15.44%","angle":713.4,"oh":4e-5},{"series":"with 4 mg hydrogen & EGR15.44%","angle":714.1,"oh":1.45e-4},{"series":"with 4 mg hydrogen & EGR15.44%","angle":715,"oh":1.6e-4},{"series":"with 4 mg hydrogen & EGR15.44%","angle":716,"oh":1.77e-4},{"series":"with 4 mg hydrogen & EGR15.44%","angle":717,"oh":1.92e-4},{"series":"with 4 mg hydrogen & EGR15.44%","angle":718,"oh":2.08e-4},{"series":"with 4 mg hydrogen & EGR15.44%","angle":719,"oh":2.2e-4},{"series":"with 4 mg hydrogen & EGR15.44%","angle":720,"oh":2.31e-4},{"series":"with 4 mg hydrogen & EGR15.44%","angle":721,"oh":2.4e-4},{"series":"with 4 mg hydrogen & EGR15.44%","angle":722,"oh":2.48e-4},{"series":"with 4 mg hydrogen & EGR15.44%","angle":723,"oh":2.55e-4},{"series":"with 4 mg hydrogen & EGR15.44%","angle":724,"oh":2.6e-4},{"series":"with 4 mg hydrogen & EGR15.44%","angle":725,"oh":2.61e-4},{"series":"with 4 mg hydrogen & EGR15.44%","angle":726,"oh":2.6e-4},{"series":"with 4 mg hydrogen & EGR15.44%","angle":727,"oh":2.58e-4},{"series":"with 4 mg hydrogen & EGR15.44%","angle":728,"oh":2.54e-4},{"series":"with 4 mg hydrogen & EGR15.44%","angle":730,"oh":2.42e-4},{"series":"with 4 mg hydrogen & EGR15.44%","angle":732,"oh":2.25e-4},{"series":"with 4 mg hydrogen & EGR15.44%","angle":734,"oh":2e-4},{"series":"with 4 mg hydrogen & EGR15.44%","angle":736,"oh":1.74e-4},{"series":"with 4 mg hydrogen & EGR15.44%","angle":738,"oh":1.48e-4},{"series":"with 4 mg hydrogen & EGR15.44%","angle":740,"oh":1.23e-4},{"series":"with 4 mg hydrogen & EGR15.44%","angle":742,"oh":1.02e-4},{"series":"with 4 mg hydrogen & EGR15.44%","angle":744,"oh":8.2e-5},{"series":"with 4 mg hydrogen & EGR15.44%","angle":746,"oh":6.5e-5},{"series":"with 4 mg hydrogen & EGR15.44%","angle":748,"oh":5.1e-5},{"series":"with 4 mg hydrogen & EGR15.44%","angle":750,"oh":3.9e-5},{"series":"with 4 mg hydrogen & EGR15.44%","angle":754,"oh":2.3e-5},{"series":"with 4 mg hydrogen & EGR15.44%","angle":758,"oh":1.3e-5},{"series":"with 4 mg hydrogen & EGR15.44%","angle":762,"oh":7.5e-6},{"series":"with 4 mg hydrogen & EGR15.44%","angle":768,"oh":3.6e-6},{"series":"with 4 mg hydrogen & EGR15.44%","angle":775,"oh":1.5e-6},{"series":"with 4 mg hydrogen & EGR15.44%","angle":785,"oh":5e-7},{"series":"with 4 mg hydrogen & EGR15.44%","angle":800,"oh":1e-7}
    ],
    "c_inset": [
      {"series":"Ebrshimi et al. [6]","angle":710.8,"oh":0},{"series":"Ebrshimi et al. [6]","angle":711.05,"oh":0},{"series":"Ebrshimi et al. [6]","angle":711.5,"oh":2.5e-7},{"series":"Ebrshimi et al. [6]","angle":711.59,"oh":9.6e-7},
      {"series":"with 1 mg hydrogen","angle":710.8,"oh":0},{"series":"with 1 mg hydrogen","angle":711.05,"oh":0},{"series":"with 1 mg hydrogen","angle":711.5,"oh":2.8e-7},{"series":"with 1 mg hydrogen","angle":711.585,"oh":9.6e-7},
      {"series":"with 2 mg hydrogen","angle":710.8,"oh":0},{"series":"with 2 mg hydrogen","angle":711.04,"oh":0},{"series":"with 2 mg hydrogen","angle":711.48,"oh":3e-7},{"series":"with 2 mg hydrogen","angle":711.58,"oh":9.6e-7},
      {"series":"with 3 mg hydrogen","angle":710.8,"oh":0},{"series":"with 3 mg hydrogen","angle":711.03,"oh":0},{"series":"with 3 mg hydrogen","angle":711.47,"oh":3.2e-7},{"series":"with 3 mg hydrogen","angle":711.575,"oh":9.6e-7},
      {"series":"with 4 mg hydrogen & EGR15.44%","angle":710.8,"oh":0},{"series":"with 4 mg hydrogen & EGR15.44%","angle":712.52,"oh":0},{"series":"with 4 mg hydrogen & EGR15.44%","angle":713.01,"oh":8.2e-7}
    ]
  },
  "concat": [
    {
      "width": 441, "height": 359,
      "layer": [
        {
          "layer": [
            {
              "data": {"name": "a_main"},
              "mark": {"type": "line", "interpolate": "monotone"},
              "encoding": {
                "x": {"field": "angle", "type": "quantitative", "scale": {"domain": [700, 800], "nice": false, "zero": false},
                  "axis": {"title": "Crank Angle, deg. ATDC", "values": [700,704,708,712,716,720,724,728,732,736,740,744,748,752,756,760,764,768,772,776,780,784,788,792,796,800], "tickCount": 40, "format": "d", "labelExpr": "datum.value % 20 == 0 ? datum.label : ''", "tickSize": {"condition": {"test": "datum.value % 20 == 0", "value": -8}, "value": -4}, "labelPadding": 13, "labelFlush": false, "labelOverlap": false, "titlePadding": 5}},
                "y": {"field": "oh", "type": "quantitative", "scale": {"domain": [0, 0.0005], "nice": false},
                  "axis": {"title": "OH Radical Mass Fraction", "values": [0,0.00002,0.00004,0.00006,0.00008,0.0001,0.00012,0.00014,0.00016,0.00018,0.0002,0.00022,0.00024,0.00026,0.00028,0.0003,0.00032,0.00034,0.00036,0.00038,0.0004,0.00042,0.00044,0.00046,0.00048,0.0005], "tickCount": 40, "labelExpr": "abs(datum.value*10000 - round(datum.value*10000)) < 0.001 ? (datum.value == 0 ? '0' : format(datum.value, '.4f')) : ''", "tickSize": {"condition": {"test": "abs(datum.value*10000 - round(datum.value*10000)) < 0.001", "value": -8}, "value": -4}, "labelOffset": {"condition": {"test": "datum.value == 0", "value": -3}, "value": 0}, "labelPadding": 15, "labelOverlap": false, "titlePadding": 7}},
                "color": {"field": "series", "type": "nominal", "scale": {"domain": ["with 1 mg hydrogen","with 2 mg hydrogen","with 3 mg hydrogen","with 8 mg hydrogen","with 10 mg hydrogen & EGR8.16%"], "range": ["#b35c5c","#4bb54b","#5656a3","#e6a03c","#6a6a6a"]},
                  "legend": {"orient": "none", "legendX": 182.5, "legendY": 40.2, "title": null, "symbolType": "M-4.43,0H4.43", "symbolSize": 196, "labelFont": "Liberation Serif", "labelFontSize": 14, "labelColor": "#111", "labelOffset": 33, "rowPadding": 2, "padding": 0, "labelLimit": 400}},
                "strokeDash": {"field": "series", "type": "nominal", "scale": {"domain": ["with 1 mg hydrogen","with 2 mg hydrogen","with 3 mg hydrogen","with 8 mg hydrogen","with 10 mg hydrogen & EGR8.16%"], "range": [[9,6],[8,3,1.5,3],[1,0],[12,5],[8,2,1.5,2,1.5,2]]},
                  "legend": {"orient": "none", "legendX": 182.5, "legendY": 40.2, "title": null, "symbolType": "M-4.43,0H4.43", "symbolSize": 196, "labelFont": "Liberation Serif", "labelFontSize": 14, "labelColor": "#111", "labelOffset": 33, "rowPadding": 2, "padding": 0, "labelLimit": 400}},
                "strokeWidth": {"field": "series", "type": "nominal", "scale": {"type": "ordinal", "domain": ["with 1 mg hydrogen","with 2 mg hydrogen","with 3 mg hydrogen","with 8 mg hydrogen","with 10 mg hydrogen & EGR8.16%"], "range": [1.4,1.3,1.3,2.2,1.2]},
                  "legend": {"orient": "none", "legendX": 182.5, "legendY": 40.2, "title": null, "symbolType": "M-4.43,0H4.43", "symbolSize": 196, "labelFont": "Liberation Serif", "labelFontSize": 14, "labelColor": "#111", "labelOffset": 33, "rowPadding": 2, "padding": 0, "labelLimit": 400}}
              }
            },
            {
              "data": {"values": [{"label": "(a) Gross IMEP: 5.6 bar", "angle": 701.66, "oh": 0.00047}]},
              "mark": {"type": "text", "align": "left", "baseline": "middle", "font": "Liberation Serif", "fontSize": 13, "color": "#111"},
              "encoding": {"x": {"field": "angle", "type": "quantitative"}, "y": {"field": "oh", "type": "quantitative"}, "text": {"field": "label"}}
            },
            {
              "data": {"values": [{"angle": 715, "oh": 0}]},
              "mark": {"type": "point", "shape": "M-1,0A1,0.5,0,1,1,1,0A1,0.5,0,1,1,-1,0Z", "size": 400, "filled": false, "color": "black", "strokeWidth": 2.5, "opacity": 1},
              "encoding": {"x": {"field": "angle", "type": "quantitative"}, "y": {"field": "oh", "type": "quantitative"}}
            }
          ]
        },
        {
          "layer": [
            {
              "data": {"name": "a_inset"},
              "mark": {"type": "line"},
              "encoding": {
                "x": {"field": "angle", "type": "quantitative", "scale": {"domain": [714.264, 715.72], "range": [228, 407], "nice": false, "zero": false},
                  "axis": {"orient": "bottom", "offset": -61, "title": null, "values": [714.5,714.75,715,715.25,715.5], "tickCount": 40, "labelExpr": "abs(datum.value*2 - round(datum.value*2)) < 0.001 ? toString(datum.value) : ''", "tickSize": {"condition": {"test": "abs(datum.value*2 - round(datum.value*2)) < 0.001", "value": -5}, "value": -3}, "labelPadding": 7, "labelFontSize": 8, "labelColor": "#444", "domainWidth": 1, "domainColor": "#333", "tickColor": "#333", "labelFlush": false, "labelOverlap": false}},
                "y": {"field": "oh", "type": "quantitative", "scale": {"domain": [0, 0.000001], "range": [257.3, 167.3], "nice": false, "zero": false}, "axis": null},
                "color": {"field": "series", "type": "nominal", "scale": {"domain": ["with 1 mg hydrogen","with 2 mg hydrogen","with 3 mg hydrogen","with 8 mg hydrogen","with 10 mg hydrogen & EGR8.16%"], "range": ["#b35c5c","#4bb54b","#5656a3","#e6a03c","#6a6a6a"]}, "legend": null},
                "strokeDash": {"field": "series", "type": "nominal", "scale": {"domain": ["with 1 mg hydrogen","with 2 mg hydrogen","with 3 mg hydrogen","with 8 mg hydrogen","with 10 mg hydrogen & EGR8.16%"], "range": [[9,6],[8,3,1.5,3],[1,0],[12,5],[8,2,1.5,2,1.5,2]]}, "legend": null},
                "strokeWidth": {"field": "series", "type": "nominal", "scale": {"type": "ordinal", "domain": ["with 1 mg hydrogen","with 2 mg hydrogen","with 3 mg hydrogen","with 8 mg hydrogen","with 10 mg hydrogen & EGR8.16%"], "range": [1.4,1.3,1.3,2.2,1.2]}, "legend": null}
              }
            },
            {
              "data": {"values": [{"angle": 715.024, "oh": 3.14e-7}]},
              "mark": {"type": "point", "shape": "M-1,0A1,0.752,0,1,1,1,0A1,0.752,0,1,1,-1,0Z", "size": 27225, "filled": false, "color": "black", "strokeWidth": 2.2, "opacity": 1},
              "encoding": {"x": {"field": "angle", "type": "quantitative"}, "y": {"field": "oh", "type": "quantitative"}}
            }
          ]
        }
      ],
      "resolve": {"scale": {"x": "independent", "y": "independent"}}
    },
    {
      "concat": [
        {
          "width": 455, "height": 370,
          "layer": [
            {
              "layer": [
                {
                  "data": {"name": "b_main"},
                  "mark": {"type": "line", "interpolate": "monotone"},
                  "encoding": {
                    "x": {"field": "angle", "type": "quantitative", "scale": {"domain": [700, 800], "nice": false, "zero": false},
                      "axis": {"title": "Crank Angle, deg. ATDC", "values": [700,704,708,712,716,720,724,728,732,736,740,744,748,752,756,760,764,768,772,776,780,784,788,792,796,800], "tickCount": 40, "format": "d", "labelExpr": "datum.value % 20 == 0 ? datum.label : ''", "tickSize": {"condition": {"test": "datum.value % 20 == 0", "value": -8}, "value": -4}, "labelPadding": 13, "labelFlush": false, "labelOverlap": false, "titlePadding": 5}},
                    "y": {"field": "oh", "type": "quantitative", "scale": {"domain": [0, 0.0005], "nice": false},
                      "axis": {"title": "OH Radical Mass Fraction", "values": [0,0.00002,0.00004,0.00006,0.00008,0.0001,0.00012,0.00014,0.00016,0.00018,0.0002,0.00022,0.00024,0.00026,0.00028,0.0003,0.00032,0.00034,0.00036,0.00038,0.0004,0.00042,0.00044,0.00046,0.00048,0.0005], "tickCount": 40, "labelExpr": "abs(datum.value*10000 - round(datum.value*10000)) < 0.001 ? (datum.value == 0 ? '0' : format(datum.value, '.4f')) : ''", "tickSize": {"condition": {"test": "abs(datum.value*10000 - round(datum.value*10000)) < 0.001", "value": -8}, "value": -4}, "labelOffset": {"condition": {"test": "datum.value == 0", "value": -3}, "value": 0}, "labelPadding": 15, "labelOverlap": false, "titlePadding": 7}},
                    "color": {"field": "series", "type": "nominal", "scale": {"domain": ["with 1 mg hydrogen","with 2 mg hydrogen","with 3 mg hydrogen","with 6 mg hydrogen","with 8 mg hydrogen & EGR8.18%"], "range": ["#b35c5c","#4bb54b","#5656a3","#e6a03c","#6a6a6a"]},
                      "legend": {"orient": "none", "legendX": 192.4, "legendY": 66, "title": null, "symbolType": "M-4.43,0H4.43", "symbolSize": 196, "labelFont": "Liberation Serif", "labelFontSize": 14, "labelColor": "#111", "labelOffset": 35.5, "rowPadding": 2, "padding": 0, "labelLimit": 400}},
                    "strokeDash": {"field": "series", "type": "nominal", "scale": {"domain": ["with 1 mg hydrogen","with 2 mg hydrogen","with 3 mg hydrogen","with 6 mg hydrogen","with 8 mg hydrogen & EGR8.18%"], "range": [[9,6],[8,3,1.5,3],[1,0],[12,5],[8,2,1.5,2,1.5,2]]},
                      "legend": {"orient": "none", "legendX": 192.4, "legendY": 66, "title": null, "symbolType": "M-4.43,0H4.43", "symbolSize": 196, "labelFont": "Liberation Serif", "labelFontSize": 14, "labelColor": "#111", "labelOffset": 35.5, "rowPadding": 2, "padding": 0, "labelLimit": 400}},
                    "strokeWidth": {"field": "series", "type": "nominal", "scale": {"type": "ordinal", "domain": ["with 1 mg hydrogen","with 2 mg hydrogen","with 3 mg hydrogen","with 6 mg hydrogen","with 8 mg hydrogen & EGR8.18%"], "range": [1.4,1.3,1.3,2.2,1.2]},
                      "legend": {"orient": "none", "legendX": 192.4, "legendY": 66, "title": null, "symbolType": "M-4.43,0H4.43", "symbolSize": 196, "labelFont": "Liberation Serif", "labelFontSize": 14, "labelColor": "#111", "labelOffset": 35.5, "rowPadding": 2, "padding": 0, "labelLimit": 400}}
                  }
                },
                {
                  "data": {"values": [{"label": "(b) Gross IMEP: 6.3 bar", "angle": 702.95, "oh": 0.00047}]},
                  "mark": {"type": "text", "align": "left", "baseline": "middle", "font": "Liberation Serif", "fontSize": 13, "color": "#111"},
                  "encoding": {"x": {"field": "angle", "type": "quantitative"}, "y": {"field": "oh", "type": "quantitative"}, "text": {"field": "label"}}
                },
                {
                  "data": {"values": [{"angle": 713.4, "oh": 0}]},
                  "mark": {"type": "point", "shape": "M-1,0A1,0.45,0,1,1,1,0A1,0.45,0,1,1,-1,0Z", "size": 576, "filled": false, "color": "black", "strokeWidth": 2.5, "opacity": 1},
                  "encoding": {"x": {"field": "angle", "type": "quantitative"}, "y": {"field": "oh", "type": "quantitative"}}
                }
              ]
            },
            {
              "layer": [
                {
                  "data": {"name": "b_inset"},
                  "mark": {"type": "line"},
                  "encoding": {
                    "x": {"field": "angle", "type": "quantitative", "scale": {"domain": [713, 715], "range": [203, 433], "nice": false, "zero": false}, "axis": null},
                    "y": {"field": "oh", "type": "quantitative", "scale": {"domain": [0, 0.000001], "range": [232.7, 187.7], "nice": false, "zero": false}, "axis": null},
                    "color": {"field": "series", "type": "nominal", "scale": {"domain": ["with 1 mg hydrogen","with 2 mg hydrogen","with 3 mg hydrogen","with 6 mg hydrogen","with 8 mg hydrogen & EGR8.18%"], "range": ["#b35c5c","#4bb54b","#5656a3","#e6a03c","#6a6a6a"]}, "legend": null},
                    "strokeDash": {"field": "series", "type": "nominal", "scale": {"domain": ["with 1 mg hydrogen","with 2 mg hydrogen","with 3 mg hydrogen","with 6 mg hydrogen","with 8 mg hydrogen & EGR8.18%"], "range": [[9,6],[8,3,1.5,3],[1,0],[12,5],[8,2,1.5,2,1.5,2]]}, "legend": null},
                    "strokeWidth": {"field": "series", "type": "nominal", "scale": {"type": "ordinal", "domain": ["with 1 mg hydrogen","with 2 mg hydrogen","with 3 mg hydrogen","with 6 mg hydrogen","with 8 mg hydrogen & EGR8.18%"], "range": [1.4,1.3,1.3,2.2,1.2]}, "legend": null}
                  }
                },
                {
                  "data": {"values": [{"angle": 714.004, "oh": 1.6e-7}]},
                  "mark": {"type": "point", "shape": "M-1,0A1,0.353,0,1,1,1,0A1,0.353,0,1,1,-1,0Z", "size": 47524, "filled": false, "color": "black", "strokeWidth": 2.5, "opacity": 1},
                  "encoding": {"x": {"field": "angle", "type": "quantitative"}, "y": {"field": "oh", "type": "quantitative"}}
                }
              ]
            }
          ],
          "resolve": {"scale": {"x": "independent", "y": "independent"}}
        },
        {
          "width": 455, "height": 370,
          "layer": [
            {
              "layer": [
                {
                  "data": {"name": "c_main"},
                  "mark": {"type": "line", "interpolate": "monotone"},
                  "encoding": {
                    "x": {"field": "angle", "type": "quantitative", "scale": {"domain": [700, 800], "nice": false, "zero": false},
                      "axis": {"title": "Crank Angle, deg. ATDC", "values": [700,704,708,712,716,720,724,728,732,736,740,744,748,752,756,760,764,768,772,776,780,784,788,792,796,800], "tickCount": 40, "format": "d", "labelExpr": "datum.value % 20 == 0 ? datum.label : ''", "tickSize": {"condition": {"test": "datum.value % 20 == 0", "value": -8}, "value": -4}, "labelPadding": 13, "labelFlush": false, "labelOverlap": false, "titlePadding": 5}},
                    "y": {"field": "oh", "type": "quantitative", "scale": {"domain": [0, 0.0005], "nice": false},
                      "axis": {"title": "OH Radical Mass Fraction", "values": [0,0.00002,0.00004,0.00006,0.00008,0.0001,0.00012,0.00014,0.00016,0.00018,0.0002,0.00022,0.00024,0.00026,0.00028,0.0003,0.00032,0.00034,0.00036,0.00038,0.0004,0.00042,0.00044,0.00046,0.00048,0.0005], "tickCount": 40, "labelExpr": "abs(datum.value*10000 - round(datum.value*10000)) < 0.001 ? (datum.value == 0 ? '0' : format(datum.value, '.4f')) : ''", "tickSize": {"condition": {"test": "abs(datum.value*10000 - round(datum.value*10000)) < 0.001", "value": -8}, "value": -4}, "labelOffset": {"condition": {"test": "datum.value == 0", "value": -3}, "value": 0}, "labelPadding": 15, "labelOverlap": false, "titlePadding": 7}},
                    "color": {"field": "series", "type": "nominal", "scale": {"domain": ["Ebrshimi et al. [6]","with 1 mg hydrogen","with 2 mg hydrogen","with 3 mg hydrogen","with 4 mg hydrogen & EGR15.44%"], "range": ["#111111","#b35c5c","#4bb54b","#e6a03c","#6a6a6a"]},
                      "legend": {"orient": "none", "legendX": 187.7, "legendY": 53.3, "title": null, "symbolType": "M-4.43,0H4.43", "symbolSize": 196, "labelFont": "Liberation Serif", "labelFontSize": 14, "labelColor": "#111", "labelOffset": 33.5, "rowPadding": 2, "padding": 0, "labelLimit": 400}},
                    "strokeDash": {"field": "series", "type": "nominal", "scale": {"domain": ["Ebrshimi et al. [6]","with 1 mg hydrogen","with 2 mg hydrogen","with 3 mg hydrogen","with 4 mg hydrogen & EGR15.44%"], "range": [[1,0],[9,6],[8,3,1.5,3],[12,5],[8,2,1.5,2,1.5,2]]},
                      "legend": {"orient": "none", "legendX": 187.7, "legendY": 53.3, "title": null, "symbolType": "M-4.43,0H4.43", "symbolSize": 196, "labelFont": "Liberation Serif", "labelFontSize": 14, "labelColor": "#111", "labelOffset": 33.5, "rowPadding": 2, "padding": 0, "labelLimit": 400}},
                    "strokeWidth": {"field": "series", "type": "nominal", "scale": {"type": "ordinal", "domain": ["Ebrshimi et al. [6]","with 1 mg hydrogen","with 2 mg hydrogen","with 3 mg hydrogen","with 4 mg hydrogen & EGR15.44%"], "range": [1.8,1.4,1.3,2.2,1.2]},
                      "legend": {"orient": "none", "legendX": 187.7, "legendY": 53.3, "title": null, "symbolType": "M-4.43,0H4.43", "symbolSize": 196, "labelFont": "Liberation Serif", "labelFontSize": 14, "labelColor": "#111", "labelOffset": 33.5, "rowPadding": 2, "padding": 0, "labelLimit": 400}}
                  }
                },
                {
                  "data": {"values": [{"label": "(c) Gross IMEP: 7.7 bar", "angle": 702.95, "oh": 0.00047}]},
                  "mark": {"type": "text", "align": "left", "baseline": "middle", "font": "Liberation Serif", "fontSize": 13, "color": "#111"},
                  "encoding": {"x": {"field": "angle", "type": "quantitative"}, "y": {"field": "oh", "type": "quantitative"}, "text": {"field": "label"}}
                },
                {
                  "data": {"values": [{"angle": 711.5, "oh": 0}]},
                  "mark": {"type": "point", "shape": "M-1,0A1,0.42,0,1,1,1,0A1,0.42,0,1,1,-1,0Z", "size": 676, "filled": false, "color": "black", "strokeWidth": 2.5, "opacity": 1},
                  "encoding": {"x": {"field": "angle", "type": "quantitative"}, "y": {"field": "oh", "type": "quantitative"}}
                }
              ]
            },
            {
              "layer": [
                {
                  "data": {"name": "c_inset"},
                  "mark": {"type": "line"},
                  "encoding": {
                    "x": {"field": "angle", "type": "quantitative", "scale": {"domain": [710.792, 713.62], "range": [209.8, 427.5], "nice": false, "zero": false},
                      "axis": {"orient": "bottom", "offset": -96, "title": null, "values": [710.8,711,711.2,711.4,711.6,711.8,712,712.2,712.4,712.6,712.8,713,713.2,713.4,713.6], "tickCount": 40, "labelExpr": "abs(datum.value - round(datum.value)) < 0.001 ? toString(round(datum.value)) : ''", "tickSize": {"condition": {"test": "abs(datum.value - round(datum.value)) < 0.001", "value": -6}, "value": -3}, "labelPadding": 9, "labelFontSize": 8, "labelColor": "#444", "domainWidth": 1, "domainColor": "#333", "tickColor": "#333", "labelFlush": false, "labelOverlap": false}},
                    "y": {"field": "oh", "type": "quantitative", "scale": {"domain": [0, 0.000001], "range": [217.3, 157.3], "nice": false, "zero": false}, "axis": null},
                    "color": {"field": "series", "type": "nominal", "scale": {"domain": ["Ebrshimi et al. [6]","with 1 mg hydrogen","with 2 mg hydrogen","with 3 mg hydrogen","with 4 mg hydrogen & EGR15.44%"], "range": ["#111111","#b35c5c","#4bb54b","#e6a03c","#6a6a6a"]}, "legend": null},
                    "strokeDash": {"field": "series", "type": "nominal", "scale": {"domain": ["Ebrshimi et al. [6]","with 1 mg hydrogen","with 2 mg hydrogen","with 3 mg hydrogen","with 4 mg hydrogen & EGR15.44%"], "range": [[1,0],[9,6],[8,3,1.5,3],[12,5],[8,2,1.5,2,1.5,2]]}, "legend": null},
                    "strokeWidth": {"field": "series", "type": "nominal", "scale": {"type": "ordinal", "domain": ["Ebrshimi et al. [6]","with 1 mg hydrogen","with 2 mg hydrogen","with 3 mg hydrogen","with 4 mg hydrogen & EGR15.44%"], "range": [1.8,1.4,1.3,2.2,1.2]}, "legend": null}
                  }
                },
                {
                  "data": {"values": [{"angle": 712.087, "oh": 2.88e-7}]},
                  "mark": {"type": "point", "shape": "M-1,0A1,0.391,0,1,1,1,0A1,0.391,0,1,1,-1,0Z", "size": 48400, "filled": false, "color": "black", "strokeWidth": 2.5, "opacity": 1},
                  "encoding": {"x": {"field": "angle", "type": "quantitative"}, "y": {"field": "oh", "type": "quantitative"}}
                }
              ]
            }
          ],
          "resolve": {"scale": {"x": "independent", "y": "independent"}}
        }
      ],
      "columns": 1,
      "spacing": 27,
      "align": "none",
      "resolve": {"scale": {"color": "independent", "strokeDash": "independent", "strokeWidth": "independent"}}
    }
  ],
  "columns": 1,
  "spacing": 14,
  "align": "none",
  "resolve": {"scale": {"color": "independent", "strokeDash": "independent", "strokeWidth": "independent"}}
}
